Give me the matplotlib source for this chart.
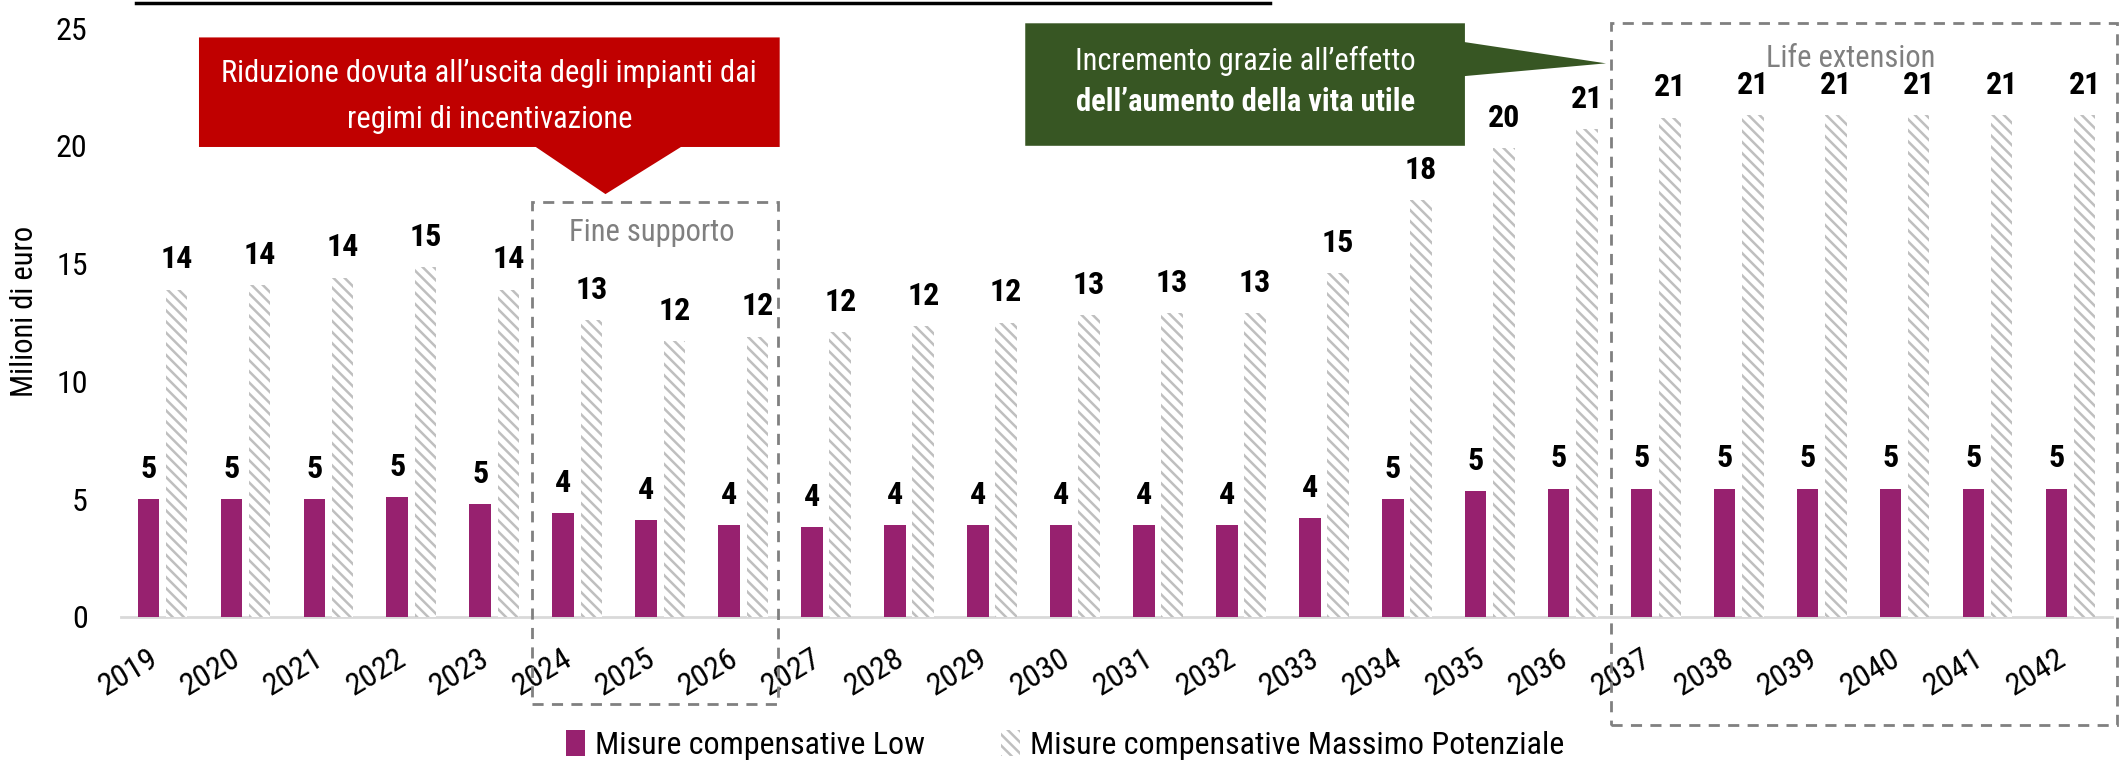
import matplotlib
matplotlib.use("Agg")
import matplotlib.pyplot as plt
from matplotlib import font_manager
from matplotlib.patches import Rectangle, Polygon, Patch
from matplotlib.lines import Line2D
import numpy as np

# --- data -------------------------------------------------------------------
years = [str(y) for y in range(2019, 2043)]
low = [5.0, 5.0, 5.0, 5.1, 4.8, 4.4, 4.1, 3.9, 3.8, 3.9, 3.9, 3.9,
       3.9, 3.9, 4.2, 5.0, 5.35, 5.45, 5.45, 5.45, 5.45, 5.45, 5.45, 5.45]
max_pot = [13.9, 14.1, 14.4, 14.85, 13.9, 12.6, 11.7, 11.9, 12.1, 12.35, 12.5, 12.8,
           12.9, 12.9, 14.6, 17.7, 19.9, 20.7, 21.2, 21.3, 21.3, 21.3, 21.3, 21.3]
series_names = ["Misure compensative Low", "Misure compensative Massimo Potenziale"]

PURPLE = "#97216F"
HATCH_GREY = "#BFBFBF"
RED = "#C00000"
GREEN = "#375623"

# narrow font like the original (Arial Narrow), pick the first one installed
names = {f.name for f in font_manager.fontManager.ttflist}
FONT = "Liberation Sans"
for cand in ["Liberation Sans Narrow", "Arial Narrow", "Roboto Condensed",
             "Archivo Narrow", "PT Sans Narrow", "Fira Sans Condensed",
             "IBM Plex Sans Condensed", "Encode Sans Condensed"]:
    if cand in names:
        FONT = cand
        break
plt.rcParams["font.family"] = [FONT, "DejaVu Sans"]
plt.rcParams["hatch.linewidth"] = 1.8

FS = 22
FS_BIG = 23

W, H = 2126, 765
fig = plt.figure(figsize=(W / 100, H / 100), dpi=100)
ax = fig.add_axes([121 / W, 1 - 617 / H, (2112 - 121) / W, (617 - 28) / H])

x = np.arange(len(years))
bw = 0.26
off = 0.17
b1 = ax.bar(x - off, low, bw, color=PURPLE, linewidth=0, zorder=3)
b2 = ax.bar(x + off, max_pot, bw, color="white", edgecolor=HATCH_GREY,
            hatch="\\\\\\", linewidth=0, zorder=3)

for bars, vals in ((b1, low), (b2, max_pot)):
    for bar, v in zip(bars, vals):
        ax.annotate(f"{v:.0f}", (bar.get_x() + bar.get_width() / 2, v),
                    xytext=(0, 11), textcoords="offset points",
                    ha="center", va="bottom", fontsize=FS_BIG, fontweight="bold")

ax.set_xlim(-0.5, len(years) - 0.5)
ax.set_ylim(0, 25)
ax.set_yticks([0, 5, 10, 15, 20, 25])
ax.tick_params(axis="y", length=0, pad=24, labelsize=FS_BIG)
ax.set_xticks(x)
ax.set_xticklabels(years, rotation=31, ha="right", va="top", fontsize=FS_BIG)
ax.tick_params(axis="x", length=0, pad=19)
for s in ("top", "right", "left"):
    ax.spines[s].set_visible(False)
ax.spines["bottom"].set_color("#D9D9D9")
ax.spines["bottom"].set_linewidth(2)
ax.set_ylabel("Milioni di euro", fontsize=FS)
ax.yaxis.set_label_coords(-0.041, 0.518)

# dashed boxes
ax.add_patch(Rectangle((4.46, -3.7), 7.42 - 4.46, 17.6 + 3.7, fill=False,
                       ls=(0, (4, 3)), lw=2, ec="#808080", clip_on=False, zorder=4))
ax.text(5.9, 16.3, "Fine supporto", ha="center", va="center", fontsize=FS, color="#808080")
ax.add_patch(Rectangle((17.46, -4.6), 23.56 - 17.46, 25.2 + 4.6, fill=False,
                       ls=(0, (4, 3)), lw=2, ec="#808080", clip_on=False, zorder=4))
ax.text(20.35, 23.7, "Life extension", ha="center", va="center", fontsize=FS, color="#808080")

# red callout
ax.add_patch(Polygon([(0.44, 24.6), (7.44, 24.6), (7.44, 19.95), (6.25, 19.95),
                      (5.34, 17.95), (4.5, 19.95), (0.44, 19.95)], closed=True,
                     fc=RED, ec="none", clip_on=False, zorder=5))
ax.text(3.94, 23.05, "Riduzione dovuta all\u2019uscita degli impianti dai", ha="center",
        va="center", fontsize=FS, color="white", zorder=6)
ax.text(3.94, 21.1, "regimi di incentivazione", ha="center", va="center",
        fontsize=FS, color="white", zorder=6)

# green callout
ax.add_patch(Polygon([(10.4, 25.2), (15.7, 25.2), (15.7, 24.4), (17.4, 23.5),
                      (15.7, 22.96), (15.7, 20.0), (10.4, 20.0)], closed=True,
                     fc=GREEN, ec="none", clip_on=False, zorder=5))
ax.text(13.05, 23.6, "Incremento grazie all\u2019effetto", ha="center", va="center",
        fontsize=FS, color="white", zorder=6)
ax.text(13.05, 21.85, "dell\u2019aumento della vita utile", ha="center", va="center",
        fontsize=FS, color="white", fontweight="bold", zorder=6)

# cut-off title underline at the very top
fig.add_artist(Line2D([136 / W, 1270 / W], [1 - 3 / H, 1 - 3 / H], color="black", lw=2.5))

handles = [Patch(fc=PURPLE, ec="none"),
           Patch(fc="white", ec=HATCH_GREY, hatch="\\\\\\", lw=0)]
fig.legend(handles, series_names, loc="center", bbox_to_anchor=(1065 / W, 1 - 745 / H),
           ncol=2, frameon=False, fontsize=FS_BIG, handlelength=0.6, handleheight=0.9,
           handletextpad=0.3, columnspacing=2.4)

fig.savefig("out.png", dpi=100)
